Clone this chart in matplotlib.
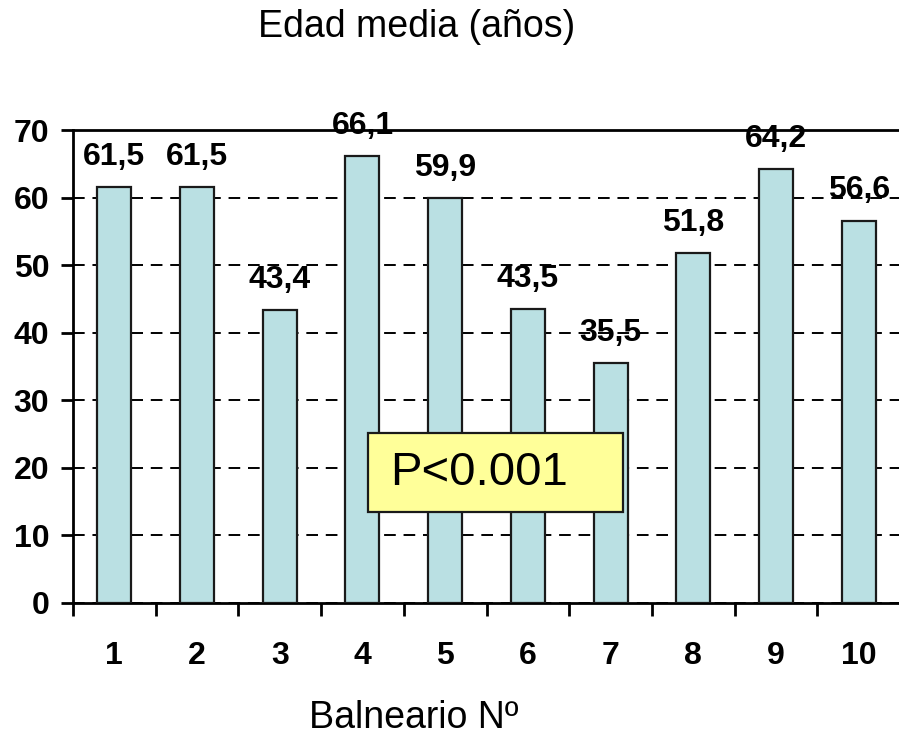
import matplotlib.pyplot as plt
from matplotlib.patches import Rectangle
import numpy as np

plt.rcParams['font.family'] = ['Liberation Sans', 'DejaVu Sans']

balnearios = ['1', '2', '3', '4', '5', '6', '7', '8', '9', '10']
edad_media = [61.5, 61.5, 43.4, 66.1, 59.9, 43.5, 35.5, 51.8, 64.2, 56.6]

fig = plt.figure(figsize=(8.99, 7.35), dpi=100)
ax = fig.add_axes([73 / 899, 132 / 735, 827 / 899, 473 / 735])

x = np.arange(len(balnearios))
ax.bar(x, edad_media, width=0.41, color='#bae0e3', edgecolor='#1a1a1a',
       linewidth=1.6, zorder=3)

# value labels above each bar, decimal comma
for xi, v in zip(x, edad_media):
    ax.annotate(f'{v:.1f}'.replace('.', ','), (xi, v), xytext=(0, 16),
                textcoords='offset points', ha='center', va='baseline',
                fontsize=23, fontweight='bold', zorder=4)

ax.set_xlim(-0.5, len(balnearios) - 0.5)
ax.set_ylim(0, 70)
ax.set_yticks(range(0, 71, 10))
ax.yaxis.grid(True, linestyle=(0, (6, 4)), color='black', linewidth=1.4, zorder=1)
ax.axhline(70, color='black', linewidth=2, zorder=2, clip_on=False)

ax.set_xticks(x)
ax.set_xticklabels(balnearios, fontsize=23, fontweight='bold')
ax.set_xticks(np.arange(-0.5, len(balnearios), 1), minor=True)
ax.tick_params(axis='x', which='major', length=0, pad=27)
ax.tick_params(axis='x', which='minor', length=9, width=2, direction='out')
ax.tick_params(axis='y', length=9, width=2, direction='out', labelsize=23, pad=8)
for lab in ax.get_yticklabels():
    lab.set_fontweight('bold')

for side in ['top', 'right']:
    ax.spines[side].set_visible(False)
for side in ['left', 'bottom']:
    ax.spines[side].set_linewidth(2)

fig.text(417 / 899, 1 - 27 / 735, 'Edad media (años)', ha='center', va='center', fontsize=27)
fig.text(414 / 899, 1 - 718 / 735, 'Balneario Nº', ha='center', va='center', fontsize=27)

# significance box
fig.add_artist(Rectangle((368 / 899, 1 - 512 / 735), 255 / 899, 79 / 735,
                         transform=fig.transFigure, facecolor='#ffff99',
                         edgecolor='#1a1a1a', linewidth=1.6, zorder=5))
fig.text(390 / 899, 1 - 473 / 735, 'P<0.001', fontsize=34, ha='left', va='center', zorder=6)

fig.savefig('out.png', dpi=100)
